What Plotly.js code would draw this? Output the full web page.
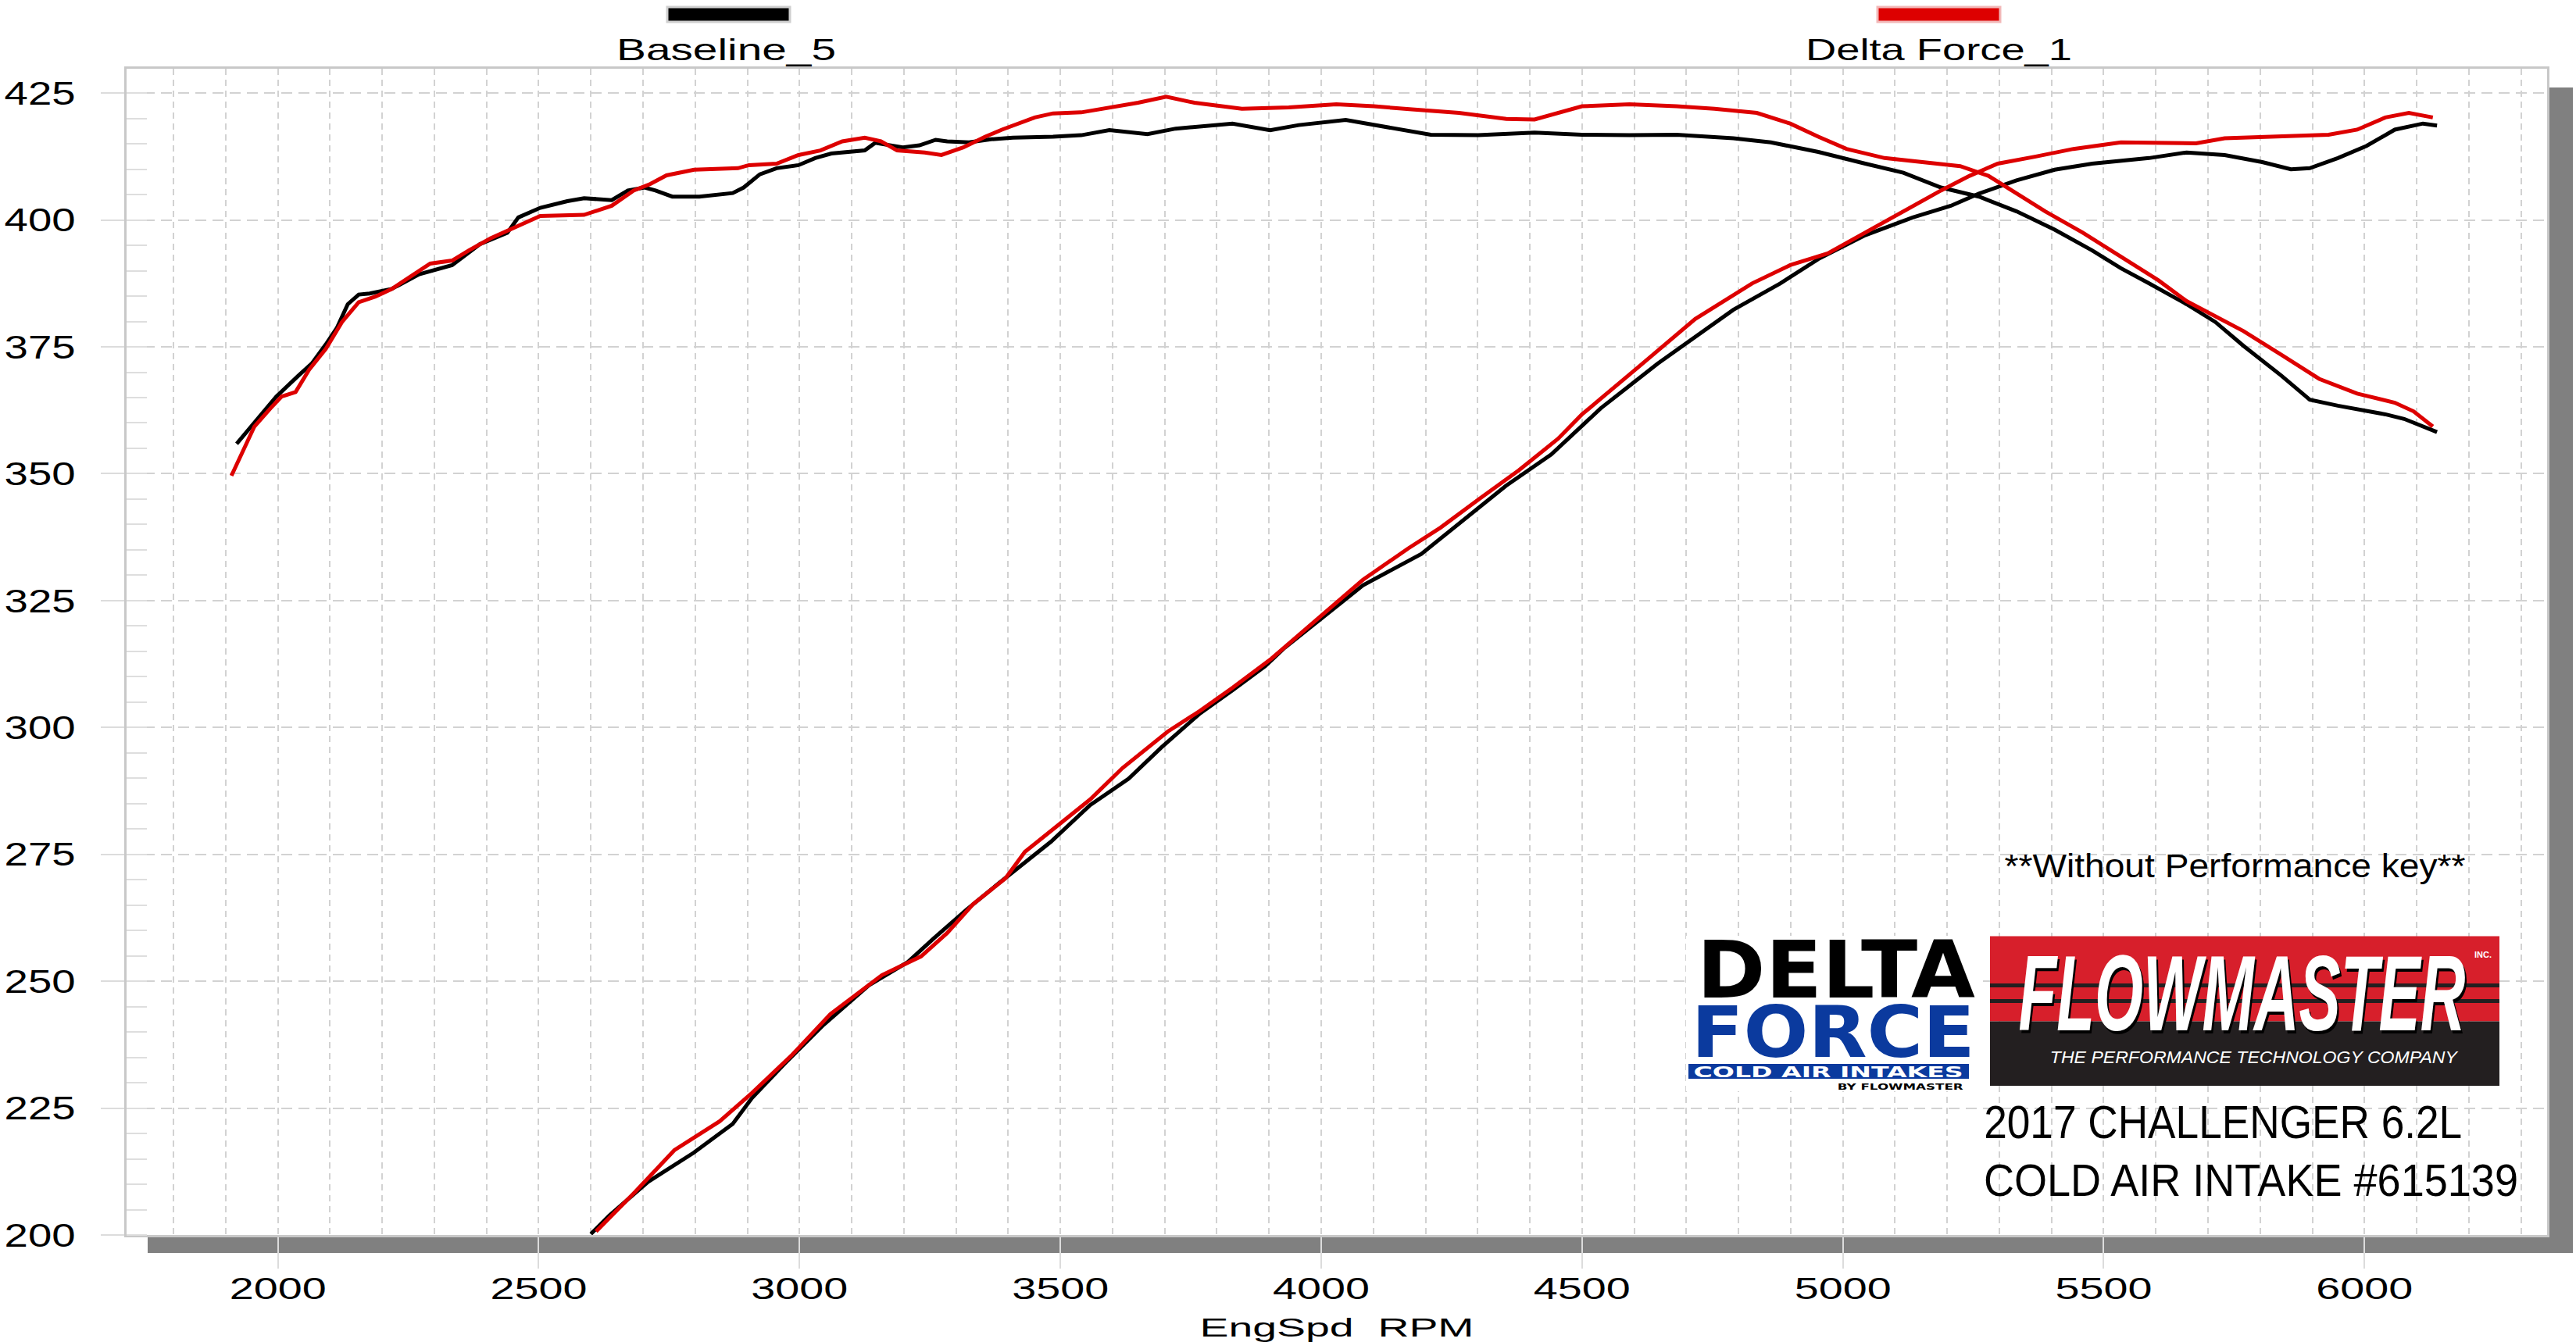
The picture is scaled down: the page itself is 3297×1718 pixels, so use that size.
<!DOCTYPE html>
<html>
<head>
<meta charset="utf-8">
<script src="https://cdn.plot.ly/plotly-3.0.1.min.js"></script>
<style>
html,body{margin:0;padding:0;background:#ffffff;}
#chart{width:3297px;height:1718px;}
</style>
</head>
<body>
<div id="chart"></div>
<script>
// ---------------- DATA ----------------
const seriesNames = ['Baseline_5', 'Delta Force_1'];

const baselineTorqueRpm = [1921,1965,1997,2039,2065,2092,2113,2134,2155,2176,2218,2271,2303,2334,2387,2440,2461,2503,2555,2587,2640,2671,2703,2724,2756,2808,2872,2893,2924,2956,2998,3030,3061,3125,3145,3166,3198,3230,3261,3283,3325,3367,3409,3486,3540,3594,3667,3721,3830,3902,3957,4047,4138,4210,4301,4409,4500,4591,4681,4790,4862,4953,5043,5116,5188,5261,5333,5406,5478,5533,5587,5659,5714,5768,5841,5895,5949,6040,6076,6139];
const baselineTorque = [355.9,361.4,365.2,369.3,371.7,375.5,378.7,383.4,385.3,385.5,386.4,389.3,390.2,391.1,395.2,397.5,400.5,402.4,403.7,404.3,403.9,405.8,406.4,405.8,404.6,404.6,405.3,406.4,409.0,410.2,410.8,412.2,413.1,413.7,415.2,414.9,414.3,414.7,415.8,415.5,415.3,415.9,416.2,416.4,416.7,417.7,416.9,418.0,419.0,417.7,418.7,419.7,418.1,416.8,416.7,417.2,416.8,416.7,416.8,416.1,415.3,413.4,411.1,409.3,406.4,404.6,401.7,398.1,394.0,390.5,387.5,383.4,379.9,375.2,369.3,364.6,363.4,361.7,360.8,358.2];

const baselineHpRpm = [2600,2635,2710,2797,2872,2909,2971,3046,3133,3208,3258,3320,3382,3420,3482,3557,3631,3694,3768,3831,3893,3930,4005,4080,4192,4279,4354,4441,4536,4645,4717,4790,4880,4953,5043,5134,5207,5261,5333,5406,5478,5587,5659,5732,5804,5859,5895,5949,6004,6058,6112,6139];
const baselineHp = [200.2,203.8,210.5,216.2,221.9,227.0,233.7,241.4,249.2,253.8,258.5,264.1,269.3,272.4,277.5,284.7,289.9,296.1,302.8,307.4,312.1,315.7,321.9,328.0,334.2,341.4,347.6,353.8,362.9,371.7,377.0,382.3,387.5,392.3,397.0,400.5,402.8,405.2,407.8,409.9,411.1,412.2,413.3,412.8,411.4,410.0,410.2,412.2,414.6,417.8,419.0,418.6];

const deltaTorqueRpm = [1911,1934,1955,1986,2007,2034,2060,2092,2123,2155,2187,2218,2260,2292,2334,2366,2408,2450,2503,2587,2640,2682,2714,2745,2798,2882,2903,2956,2998,3040,3082,3125,3156,3187,3240,3272,3314,3356,3388,3451,3486,3540,3594,3649,3703,3757,3848,3938,4029,4101,4174,4264,4355,4409,4500,4591,4681,4754,4835,4899,4953,5007,5080,5152,5225,5279,5333,5388,5460,5533,5605,5659,5714,5768,5841,5913,5986,6058,6094,6131];
const deltaTorque = [349.6,354.6,359.3,362.9,365.2,366.1,370.5,374.6,379.9,383.8,384.9,386.4,389.3,391.4,392.0,394.0,396.4,398.4,400.8,401.0,402.8,405.8,407.1,408.8,409.9,410.2,410.8,411.1,412.8,413.7,415.5,416.2,415.5,413.7,413.3,412.8,414.3,416.4,417.8,420.2,421.0,421.2,422.2,423.1,424.3,423.1,421.9,422.2,422.8,422.4,421.8,421.1,419.9,419.8,422.4,422.8,422.4,421.9,421.1,419.0,416.4,414.0,412.2,411.5,410.6,408.7,405.2,401.7,397.5,392.8,388.1,384.0,381.0,378.1,373.4,368.7,365.8,364.0,362.3,359.3];

const deltaHpRpm = [2610,2685,2760,2847,2909,2984,3059,3158,3233,3283,3333,3395,3432,3470,3557,3619,3706,3768,3831,3905,3980,4080,4167,4229,4304,4379,4454,4500,4609,4717,4826,4899,4971,5043,5116,5188,5243,5297,5370,5442,5533,5677,5732,5841,5931,5986,6040,6085,6131];
const deltaHp = [200.7,208.5,216.7,222.4,228.0,235.3,243.5,251.2,254.9,259.5,265.2,270.3,275.5,278.6,285.8,292.0,299.2,303.3,307.9,313.6,320.3,329.1,335.3,339.4,345.1,350.7,356.9,361.7,371.1,380.5,387.5,391.1,393.4,397.5,401.7,405.8,408.7,411.1,412.5,414.0,415.3,415.1,416.1,416.5,416.8,417.8,420.2,421.1,420.2];

const xTickVals = [2000,2500,3000,3500,4000,4500,5000,5500,6000];
const xTickLabels = ['2000','2500','3000','3500','4000','4500','5000','5500','6000'];
const yTickVals = [200,225,250,275,300,325,350,375,400,425];
const yTickLabels = ['200','225','250','275','300','325','350','375','400','425'];
const xTitle = 'EngSpd\u00a0\u00a0RPM';
const noteText = '**Without Performance key**';
const vehicleText = '2017 CHALLENGER 6.2L';
const partText = 'COLD AIR INTAKE #615139';

// ---------------- LAYOUT HELPERS ----------------
const W = 3297, H = 1718, L = 162, R = 3260, T = 88, B = 1581;
const px = x => (x - L) / (R - L);
const py = y => (B - y) / (B - T);
const BLACK = '#000000', RED = '#dd0000', BLUE = '#0b3a9e';
const SANS = 'Liberation Sans, Arial, sans-serif';
const NARROW = 'Liberation Sans Narrow, Arial Narrow, Liberation Sans, sans-serif';
const BLOCK = 'DejaVu Sans, Liberation Sans, sans-serif';

const fitWidths = [];
const annotations = [];
function ann(text, cx, cy, size, color, family, w, extra) {
  annotations.push({
    text: text, x: px(cx), y: py(cy), xref: 'paper', yref: 'paper',
    xanchor: 'center', yanchor: 'middle', showarrow: false,
    font: Object.assign({size: size, color: color, family: family}, extra || {})
  });
  fitWidths.push(w);
}
function rect(x0, y0, x1, y1, fill, layer, lineColor, lineW) {
  return {type: 'rect', xref: 'paper', yref: 'paper', x0: px(x0), x1: px(x1), y0: py(y0), y1: py(y1),
    fillcolor: fill, layer: layer || 'above', line: {width: lineW || 0, color: lineColor || fill}};
}

// legend texts
ann(seriesNames[0], 929, 64, 39, BLACK, SANS, 281);
ann(seriesNames[1], 2481, 64, 39, BLACK, SANS, 341);
// notes
ann(noteText, 2860, 1108, 42, BLACK, NARROW, 590);
ann(vehicleText, 2845, 1436, 60, BLACK, NARROW, 612);
ann(partText, 2881, 1510, 58, BLACK, NARROW, 684);
// Delta Force logo
ann('DELTA', 2350, 1242, 101, BLACK, BLOCK, 356, {weight: 'bold'});
ann('FORCE', 2346, 1321, 91, BLUE, BLOCK, 363, {weight: 'bold'});
ann('COLD AIR INTAKES', 2340, 1371.5, 19, '#ffffff', BLOCK, 345, {weight: 'bold'});
ann('BY FLOWMASTER', 2432, 1391, 10, BLACK, BLOCK, 161, {weight: 'bold'});
// Flowmaster logo
ann('FLOWMASTER', 2869, 1271, 138, '#ffffff', NARROW, 572, {weight: 'bold', style: 'italic', shadow: '4px 4px 0px #000'});
ann('THE PERFORMANCE TECHNOLOGY COMPANY', 2885, 1353, 22, '#ffffff', NARROW, 521, {style: 'italic'});
ann('INC.', 3178, 1222, 10, '#ffffff', SANS, 22, {weight: 'bold'});

const shapes = [
  rect(189, 1581, 3293, 1604, '#808080', 'below'),
  rect(3262, 112, 3293, 1604, '#808080', 'below'),
  rect(854, 9, 1011, 28, BLACK, 'above', '#cfcfcf', 3),
  rect(2403, 9, 2560, 28, RED, 'above', '#f2b8b8', 3),
  // delta logo background and bar
  rect(2158, 1198, 2532, 1397, '#ffffff', 'above'),
  rect(2161, 1362, 2520, 1381, BLUE, 'above'),
  // flowmaster box
  rect(2547, 1198.5, 3199, 1307.5, '#d71f2b', 'above'),
  rect(2547, 1307.5, 3199, 1390, '#231f20', 'above'),
  rect(2547, 1259, 3199, 1264, '#231f20', 'above'),
  rect(2547, 1279, 3199, 1284, '#231f20', 'above')
];

function line(x, y, color) {
  return {type: 'scatter', mode: 'lines', x: x, y: y, line: {color: color, width: 5}, hoverinfo: 'skip', showlegend: false, cliponaxis: true};
}
const traces = [
  line(baselineTorqueRpm, baselineTorque, BLACK),
  line(baselineHpRpm, baselineHp, BLACK),
  line(deltaTorqueRpm, deltaTorque, RED),
  line(deltaHpRpm, deltaHp, RED)
];

const GRID = '#d2d2d2';
const layout = {
  width: W, height: H,
  margin: {l: L, r: W - R, t: T, b: H - B, pad: 0},
  paper_bgcolor: '#ffffff', plot_bgcolor: '#ffffff',
  showlegend: false, hovermode: false,
  xaxis: {
    range: [1710, 6350], tickmode: 'array', tickvals: xTickVals, ticktext: xTickLabels,
    showgrid: true, gridcolor: GRID, gridwidth: 2, griddash: '8px,6px',
    ticks: 'outside', ticklen: 40, tickcolor: '#dcdcdc', tickwidth: 2,
    ticklabelstandoff: -8,
    minor: {tickmode: 'linear', tick0: 0, dtick: 100, showgrid: true, gridcolor: GRID, gridwidth: 2, griddash: '8px,6px', ticks: ''},
    showline: true, linecolor: '#c8c8c8', linewidth: 3, mirror: true, zeroline: false,
    tickfont: {family: SANS, size: 39, color: BLACK},
    title: {text: xTitle, font: {family: SANS, size: 34, color: BLACK}, standoff: 22},
    automargin: false
  },
  yaxis: {
    range: [200, 429.8], tickmode: 'array', tickvals: yTickVals, ticktext: yTickLabels,
    showgrid: true, gridcolor: GRID, gridwidth: 2, griddash: '14px,8px',
    ticks: 'outside', ticklen: 30, tickcolor: '#dcdcdc', tickwidth: 2,
    ticklabelstandoff: 24,
    minor: {tickmode: 'linear', tick0: 0, dtick: 5, ticks: 'inside', ticklen: 26, tickcolor: '#dedede', tickwidth: 2, showgrid: false},
    showline: true, linecolor: '#c8c8c8', linewidth: 3, mirror: true, zeroline: false,
    tickfont: {family: SANS, size: 42, color: BLACK},
    automargin: false
  },
  shapes: shapes,
  annotations: annotations
};

function fit(el, w) {
  if (!el) return;
  el.setAttribute('textLength', w);
  el.setAttribute('lengthAdjust', 'spacingAndGlyphs');
}

Plotly.newPlot('chart', traces, layout, {displayModeBar: false, responsive: false, staticPlot: true}).then(function () {
  document.querySelectorAll('.xtick text').forEach(t => fit(t, 124));
  document.querySelectorAll('.ytick text').forEach(t => fit(t, 91));
  fit(document.querySelector('.g-xtitle text'), 351);
  const groups = document.querySelectorAll('g.annotation');
  groups.forEach((g, i) => {
    const w = fitWidths[i];
    const t = g.querySelector('text.annotation-text');
    if (t && w) fit(t, w);
    // keep the annotation boxes in step with the fitted text width
    g.querySelectorAll('rect').forEach(r => {
      const oldW = parseFloat(r.getAttribute('width'));
      if (!isFinite(oldW) || !w) return;
      const oldX = parseFloat(r.getAttribute('x')) || 0;
      const newW = w + 4;
      r.setAttribute('x', oldX + (oldW - newW) / 2);
      r.setAttribute('width', newW);
    });
  });
});
</script>
</body>
</html>
